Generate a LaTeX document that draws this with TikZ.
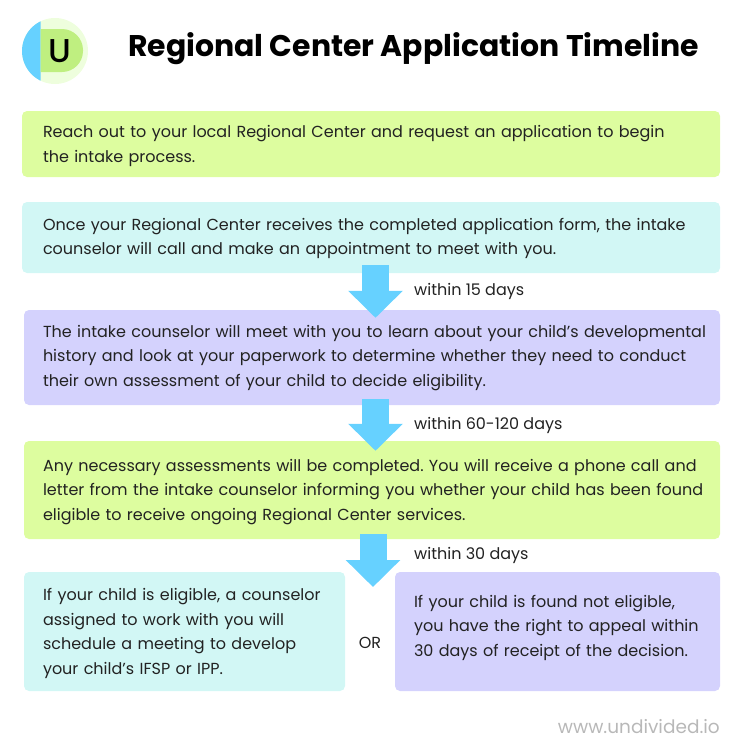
\documentclass[tikz,border=0pt]{standalone}
\usepackage{fontspec}
\setmainfont{Poppins}
\newfontfamily\titlefont{Poppins Bold}
\newfontfamily\logofont{Poppins Medium}
\usetikzlibrary{arrows.meta}
\definecolor{boxgreen}{HTML}{DDFD9F}
\definecolor{boxcyan}{HTML}{D2F7F5}
\definecolor{boxpurple}{HTML}{D4D2FD}
\definecolor{arrowblue}{HTML}{66D1FF}
\definecolor{logopale}{HTML}{EEFEDD}
\definecolor{logogreen}{HTML}{BFEF80}
\definecolor{inkdark}{HTML}{222222}
\newcommand{\liftby}[1]{\rule[-#1pt]{0pt}{1pt}}
\tikzset{
    stepbox/.style={rounded corners=5pt,inner xsep=19pt,inner ysep=0pt,align=left,text=inkdark,
        font=\fontsize{16}{24.5}\selectfont\frenchspacing,execute at begin node={\rule{0pt}{16pt}}},
    flowarrow/.style={arrowblue,line width=27pt,-{Triangle[width=53pt,length=27pt]}},
    smalllabel/.style={text=inkdark,font=\fontsize{16}{20}\selectfont},
}
\begin{document}
\begin{tikzpicture}[x=1pt,y=-1pt]
    \useasboundingbox(0,0)rectangle(750,750);
    % logo
    \fill[logopale](55,51)circle(33);
    \begin{scope}
        \clip(22,18)rectangle(40.5,84);
        \fill[arrowblue](55,51)circle(33);
    \end{scope}
    \fill[logogreen](40.5,29)[rounded corners=21pt]--(83,29)--(83,72)[sharp corners]--(40.5,72)--cycle;
    \node(logo)at(60,51){\logofont\fontsize{33}{33}\selectfont U};
    \node(title)at(413.5,49){\titlefont\fontsize{29.9}{30}\selectfont Regional Center Application Timeline};
    % boxes
    \node[stepbox,fill=boxgreen,text width=656pt,inner xsep=21pt,minimum height=66pt](reach)at(371,144){Reach out to your local Regional Center and request an application to begin\\the intake process.};
    \node[stepbox,fill=boxcyan,text width=656pt,inner xsep=21pt,minimum height=71pt](call)at(371,237.5){Once your Regional Center receives the completed application form, the intake\\counselor will call and make an appointment to meet with you.\liftby{6}};
    \node[stepbox,fill=boxpurple,text width=658pt,minimum height=95pt](meet)at(372,357.5){\mbox{The intake counselor will meet with you to learn about your child's developmental}\\history and look at your paperwork to determine whether they need to conduct\\their own assessment of your child to decide eligibility.\liftby{8}};
    \node[stepbox,fill=boxgreen,text width=658pt,minimum height=98pt](assess)at(372,490){Any necessary assessments will be completed. You will receive a phone call and\\\mbox{letter from the intake counselor informing you whether your child has been found}\\eligible to receive ongoing Regional Center services.};
    \node[stepbox,fill=boxcyan,text width=283pt,minimum height=119pt](yes)at(184.5,631.5){If your child is eligible, a counselor\\assigned to work with you will\\schedule a meeting to develop\\your child's IFSP or IPP.};
    \node[stepbox,fill=boxpurple,text width=287pt,minimum height=119pt](no)at(557.5,631.5){If your child is found not eligible,\\you have the right to appeal within\\30 days of receipt of the decision.\liftby{16}};
    \coordinate(split)at(373,587);
    % arrows
    \draw[flowarrow]([xshift=4.5pt,yshift=8pt]call.south)--([xshift=3.5pt,yshift=-8pt]meet.north);
    \draw[flowarrow]([xshift=3.5pt,yshift=6pt]meet.south)--([xshift=3.5pt,yshift=-10pt]assess.north);
    \draw[flowarrow]([xshift=1pt,yshift=5pt]assess.south)--(split);
    % labels
    \node[smalllabel,anchor=west,inner sep=0pt](d15)at(414,291){within 15 days};
    \node[smalllabel,anchor=west,inner sep=0pt](d60)at(414,425){within 60-120 days};
    \node[smalllabel,anchor=west,inner sep=0pt](d30)at(414,555){within 30 days};
    \node[smalllabel,inner sep=0pt](or)at(370,643){OR};
    \node[inner sep=0pt,text=black!28,anchor=east,font=\fontsize{18.5}{20}\selectfont](site)at(720,727){www.undivided.io};
\end{tikzpicture}
\end{document}
